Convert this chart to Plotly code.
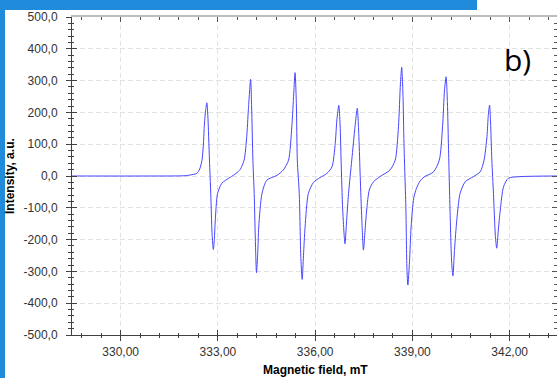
import plotly.graph_objects as go

# Magnetic field (mT) and intensity (a.u.)
field_mT = [
    328.50, 330.91, 331.99, 332.24, 332.35, 332.44, 332.51, 332.55, 332.58, 332.62,
    332.66, 332.69, 332.74, 332.78, 332.82, 332.86, 332.89, 332.92, 332.99, 333.12,
    333.38, 333.56, 333.69, 333.81, 333.89, 333.94, 334.01, 334.04, 334.08, 334.12,
    334.16, 334.19, 334.23, 334.26, 334.36, 334.51, 334.82, 335.02, 335.18, 335.28,
    335.34, 335.38, 335.42, 335.45, 335.51, 335.56, 335.60, 335.64, 335.69, 335.79,
    335.95, 336.15, 336.36, 336.52, 336.62, 336.67, 336.73, 336.77, 336.80, 336.85,
    336.92, 336.97, 337.03, 337.13, 337.23, 337.30, 337.35, 337.39, 337.44, 337.49,
    337.54, 337.59, 337.67, 337.80, 338.00, 338.31, 338.47, 338.57, 338.63, 338.67,
    338.71, 338.74, 338.80, 338.83, 338.86, 338.91, 338.96, 339.04, 339.12, 339.24,
    339.36, 339.65, 339.83, 339.93, 339.99, 340.04, 340.08, 340.11, 340.16, 340.21,
    340.25, 340.30, 340.37, 340.47, 340.63, 340.88, 341.09, 341.21, 341.30, 341.34,
    341.38, 341.41, 341.45, 341.50, 341.56, 341.60, 341.65, 341.71, 341.81, 341.96,
    342.32, 343.46,
]
intensity = [
    0, 0, 1, 5, 8, 22, 50, 95, 155, 205,
    230, 190, 50, -55, -180, -231, -200, -138, -55, -23,
    -4, 8, 21, 50, 124, 208, 304, 220, 50, -55,
    -220, -304, -240, -160, -55, -13, 2, 19, 50, 155,
    260, 325, 230, 50, -55, -260, -325, -250, -160, -55,
    -20, -5, 8, 29, 103, 176, 222, 160, 50, -107,
    -213, -140, -55, 50, 155, 213, 120, -2, -138, -233,
    -170, -107, -44, -18, -2, 19, 50, 155, 290, 342,
    250, 103, -107, -290, -343, -270, -160, -70, -40, -15,
    -3, 13, 50, 155, 270, 312, 230, 103, -107, -270,
    -314, -230, -138, -55, -18, -2, 13, 50, 124, 190,
    223, 170, 50, -55, -190, -227, -170, -107, -34, -7,
    -2, 0,
]

x_tick_vals = [330, 333, 336, 339, 342]
x_tick_text = ["330,00", "333,00", "336,00", "339,00", "342,00"]
y_tick_vals = [500, 400, 300, 200, 100, 0, -100, -200, -300, -400, -500]
y_tick_text = ["500,0", "400,0", "300,0", "200,0", "100,0", "0,0",
               "-100,0", "-200,0", "-300,0", "-400,0", "-500,0"]

x_title = "Magnetic field, mT"
y_title = "Intensity, a.u."
panel_label = "b)"

X_RANGE = [328.5, 343.46]
Y_RANGE = [-500, 500]
W, H = 557, 378
ML, MR, MT, MB = 72, 0, 17, 43
PW, PH = W - ML - MR, H - MT - MB

def px_x(p):
    return (p - ML) / PW

def px_y(p):
    return (H - MB - p) / PH

FONT = "Liberation Sans, Arial, sans-serif"
TICKC = "#333333"

fig = go.Figure()
fig.add_trace(go.Scatter(
    x=field_mT, y=intensity, mode="lines",
    line=dict(color="#4646ff", width=1, shape="spline", smoothing=0.7),
    showlegend=False, hoverinfo="skip",
))
# dummy traces so overlay axes are drawn
fig.add_trace(go.Scatter(x=[None], y=[None], xaxis="x2", yaxis="y2", showlegend=False, hoverinfo="skip"))
fig.add_trace(go.Scatter(x=[None], y=[None], xaxis="x3", yaxis="y3", showlegend=False, hoverinfo="skip"))

common_x = dict(range=X_RANGE, tickmode="array", tickvals=x_tick_vals, fixedrange=True)
common_y = dict(range=Y_RANGE, tickmode="array", tickvals=y_tick_vals, fixedrange=True)

fig.update_layout(
    width=W, height=H,
    margin=dict(l=ML, r=MR, t=MT, b=MB, pad=0),
    paper_bgcolor="white", plot_bgcolor="white",
    font=dict(family=FONT, size=12, color=TICKC),
    xaxis=dict(
        **common_x, ticktext=x_tick_text, side="bottom",
        showline=True, linecolor="#404040", linewidth=1,
        ticks="outside", ticklen=5, tickcolor="#404040", tickwidth=1,
        minor=dict(ticks="outside", ticklen=2, tick0=330, dtick=0.6, tickcolor="#404040", showgrid=False),
        showgrid=True, gridcolor="#e2e2e2", griddash="5px,3px", gridwidth=1, zeroline=False,
        tickfont=dict(family=FONT, size=12, color=TICKC), ticklabelstandoff=1,
    ),
    xaxis2=dict(
        **common_x, overlaying="x", anchor="y", side="bottom",
        showline=False, showgrid=False, zeroline=False, showticklabels=False,
        ticks="inside", ticklen=5, tickcolor="#404040",
        minor=dict(ticks="inside", ticklen=2, tick0=330, dtick=0.6, tickcolor="#404040", showgrid=False),
    ),
    xaxis3=dict(
        **common_x, overlaying="x", anchor="y", side="top",
        showline=True, linecolor="#bdbdbd", linewidth=2,
        showgrid=False, zeroline=False, showticklabels=False,
        ticks="inside", ticklen=5, tickcolor="#555555",
        minor=dict(ticks="inside", ticklen=3, tick0=330, dtick=0.6, tickcolor="#555555", showgrid=False),
    ),
    yaxis=dict(
        **common_y, ticktext=y_tick_text, side="left",
        showline=True, linecolor="#404040", linewidth=1,
        ticks="outside", ticklen=5, tickcolor="#404040", tickwidth=1,
        minor=dict(ticks="outside", ticklen=3, tick0=0, dtick=20, tickcolor="#404040", showgrid=False),
        showgrid=True, gridcolor="#e2e2e2", griddash="5px,3px", gridwidth=1, zeroline=False,
        tickfont=dict(family=FONT, size=12, color=TICKC), ticklabelstandoff=6,
    ),
    yaxis2=dict(
        **common_y, overlaying="y", anchor="x", side="left",
        showline=False, showgrid=False, zeroline=False, showticklabels=False,
        ticks="inside", ticklen=5, tickcolor="#404040",
        minor=dict(ticks="inside", ticklen=2, tick0=0, dtick=20, tickcolor="#404040", showgrid=False),
    ),
    yaxis3=dict(
        **common_y, overlaying="y", anchor="x", side="right",
        showline=True, linecolor="#bdbdbd", linewidth=2,
        showgrid=False, zeroline=False, showticklabels=False,
        ticks="inside", ticklen=5, tickcolor="#555555",
        minor=dict(ticks="inside", ticklen=3, tick0=0, dtick=20, tickcolor="#555555", showgrid=False),
    ),
)

# blue frame strips of the original figure
BLUE = "#218bdb"
fig.add_shape(type="rect", xref="paper", yref="paper",
              x0=px_x(0), x1=px_x(5), y0=px_y(H), y1=px_y(0),
              fillcolor=BLUE, line=dict(width=0), layer="above")
fig.add_shape(type="rect", xref="paper", yref="paper",
              x0=px_x(0), x1=px_x(477), y0=px_y(10), y1=px_y(0),
              fillcolor=BLUE, line=dict(width=0), layer="above")

fig.add_annotation(text="<b>" + y_title + "</b>", xref="paper", yref="paper",
                   x=px_x(10), y=px_y(176), textangle=-90, showarrow=False,
                   font=dict(family=FONT, size=12, color="black"),
                   xanchor="center", yanchor="middle")
fig.add_annotation(text="<b>" + x_title + "</b>", xref="paper", yref="paper",
                   x=px_x(315), y=px_y(370), showarrow=False,
                   font=dict(family=FONT, size=12, color="black"),
                   xanchor="center", yanchor="middle")
fig.add_annotation(text=panel_label, xref="paper", yref="paper",
                   x=px_x(517), y=px_y(60), showarrow=False,
                   font=dict(family="Open Sans, sans-serif", size=30, color="black"),
                   xanchor="center", yanchor="middle")

fig.write_html("out.html")
